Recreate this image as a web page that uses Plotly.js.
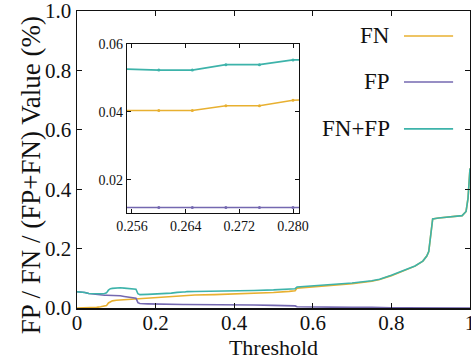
<!DOCTYPE html>
<html>
<head>
<meta charset="utf-8">
<script src="https://cdn.plot.ly/plotly-3.0.1.min.js"></script>
<style>html,body{margin:0;padding:0;background:#fff;}#chart{width:471px;height:360px;}</style>
</head>
<body>
<div id="chart"></div>
<script>
// Threshold values (x)
const threshold = [0, 0.01, 0.02, 0.03, 0.04, 0.05, 0.06, 0.07, 0.075, 0.08,
  0.085, 0.09, 0.10, 0.11, 0.12, 0.13, 0.14, 0.15, 0.155, 0.16,
  0.18, 0.20, 0.22, 0.24, 0.255, 0.26, 0.265, 0.27, 0.275, 0.28,
  0.30, 0.35, 0.40, 0.45, 0.50, 0.54, 0.555, 0.56, 0.60, 0.65,
  0.70, 0.75, 0.77, 0.80, 0.83, 0.86, 0.88, 0.89, 0.895, 0.90,
  0.905, 0.92, 0.95, 0.98, 0.99, 0.995, 1.0];

// FN series
const fnValues = [0, 0, 0, 0, 0.001, 0.002, 0.004, 0.006, 0.008, 0.017,
  0.022, 0.024, 0.026, 0.027, 0.028, 0.029, 0.030, 0.030, 0.030, 0.030,
  0.032, 0.034, 0.036, 0.038, 0.0404, 0.0404, 0.0404, 0.0418, 0.0418, 0.0434,
  0.044, 0.045, 0.047, 0.049, 0.052, 0.056, 0.058, 0.067, 0.071, 0.077,
  0.082, 0.090, 0.096, 0.109, 0.124, 0.141, 0.158, 0.175, 0.190, 0.250,
  0.300, 0.303, 0.307, 0.311, 0.325, 0.37, 0.47];

// FP series
const fpValues = [0.055, 0.054, 0.052, 0.049, 0.047, 0.045, 0.044, 0.043, 0.043, 0.043,
  0.043, 0.042, 0.042, 0.041, 0.039, 0.037, 0.036, 0.033, 0.018, 0.015,
  0.014, 0.013, 0.013, 0.012, 0.0118, 0.0118, 0.0118, 0.0118, 0.0118, 0.0118,
  0.0115, 0.011, 0.010, 0.010, 0.009, 0.008, 0.007, 0.004, 0.003, 0.003,
  0.002, 0.002, 0.001, 0.001, 0.001, 0.0005, 0, 0, 0, 0,
  0, 0, 0, 0, 0, 0, 0];

// FN+FP series
const fnfpValues = [0.055, 0.054, 0.052, 0.049, 0.048, 0.047, 0.048, 0.049, 0.051, 0.060,
  0.065, 0.066, 0.068, 0.068, 0.067, 0.066, 0.066, 0.063, 0.048, 0.045,
  0.046, 0.047, 0.049, 0.050, 0.0526, 0.0523, 0.0523, 0.0539, 0.0539, 0.0553,
  0.0555, 0.056, 0.057, 0.059, 0.061, 0.064, 0.065, 0.071, 0.074, 0.080,
  0.084, 0.092, 0.097, 0.110, 0.125, 0.1415, 0.158, 0.175, 0.190, 0.250,
  0.300, 0.303, 0.307, 0.311, 0.325, 0.37, 0.47];

const seriesNames = ['FN', 'FP', 'FN+FP'];
const seriesColors = ['#E8B030', '#7468B0', '#3DB3AA'];
const seriesData = [fnValues, fpValues, fnfpValues];

const mainTicks = [0, 0.2, 0.4, 0.6, 0.8, 1.0];
const insetXTicks = [0.256, 0.264, 0.272, 0.280];
const insetYTicks = [0.02, 0.04, 0.06];

const FONT = 'Liberation Serif, Times New Roman, serif';

const traces = [];
seriesData.forEach((vals, i) => {
  traces.push({
    x: threshold, y: vals, type: 'scatter', mode: 'lines',
    name: seriesNames[i], line: {color: seriesColors[i], width: 1.6},
    xaxis: 'x', yaxis: 'y', showlegend: false
  });
});
seriesData.forEach((vals, i) => {
  traces.push({
    x: threshold, y: vals, type: 'scatter', mode: 'lines+markers',
    name: seriesNames[i] + ' (zoom)', line: {color: seriesColors[i], width: 1.6},
    marker: {color: seriesColors[i], size: 3},
    xaxis: 'x2', yaxis: 'y2', showlegend: false
  });
});

// Legend (text on the left, line sample on the right)
const legendY = [0.916, 0.761, 0.603];
const annotations = seriesNames.map((n, i) => ({
  text: n, xref: 'paper', yref: 'paper', x: 0.8015, y: legendY[i],
  xanchor: 'right', yanchor: 'middle', showarrow: false,
  font: {family: FONT, size: 23, color: '#111'}
}));
annotations.push({
  text: 'FP / FN / (FP+FN) Value (%)', xref: 'paper', yref: 'paper',
  x: -0.117, y: 0.447, textangle: -90, xanchor: 'center', yanchor: 'middle',
  showarrow: false, font: {family: FONT, size: 27, color: '#111'}
});
const shapes = seriesNames.map((n, i) => ({
  type: 'line', xref: 'paper', yref: 'paper', x0: 0.832, x1: 0.957,
  y0: legendY[i], y1: legendY[i], line: {color: seriesColors[i], width: 1.6}
}));

const axisCommon = {
  showline: true, linecolor: '#111', mirror: 'ticks', ticks: 'inside',
  tickcolor: '#111', showgrid: false, zeroline: false, ticklabeloverflow: 'allow'
};

const layout = {
  width: 471, height: 360,
  margin: {l: 77, r: 1, t: 11, b: 52},
  paper_bgcolor: '#fff', plot_bgcolor: '#fff',
  font: {family: FONT, color: '#111'},
  showlegend: false,
  xaxis: Object.assign({}, axisCommon, {
    domain: [0, 1], anchor: 'y', range: [0, 1], tickvals: mainTicks,
    ticklen: 5, linewidth: 1.5, tickfont: {family: FONT, size: 21},
    ticklabelstandoff: -5,
    title: {text: 'Threshold', font: {family: FONT, size: 22}, standoff: 2}
  }),
  yaxis: Object.assign({}, axisCommon, {
    domain: [0, 1], anchor: 'x', range: [0, 1], tickvals: mainTicks, tickformat: '.1f',
    ticklen: 5, linewidth: 1.5, tickfont: {family: FONT, size: 21}
  }),
  xaxis2: Object.assign({}, axisCommon, {
    domain: [0.127, 0.565], anchor: 'y2', range: [0.25525, 0.2809],
    tickvals: insetXTicks, tickformat: '.3f', ticklen: 4, linewidth: 1,
    tickfont: {family: FONT, size: 14}
  }),
  yaxis2: Object.assign({}, axisCommon, {
    domain: [0.320, 0.889], anchor: 'x2', range: [0.0102, 0.06],
    tickvals: insetYTicks, tickformat: '.2f', ticklen: 4, linewidth: 1,
    tickfont: {family: FONT, size: 14}
  }),
  annotations: annotations,
  shapes: shapes
};

Plotly.newPlot('chart', traces, layout, {displayModeBar: false, staticPlot: true});
</script>
</body>
</html>
